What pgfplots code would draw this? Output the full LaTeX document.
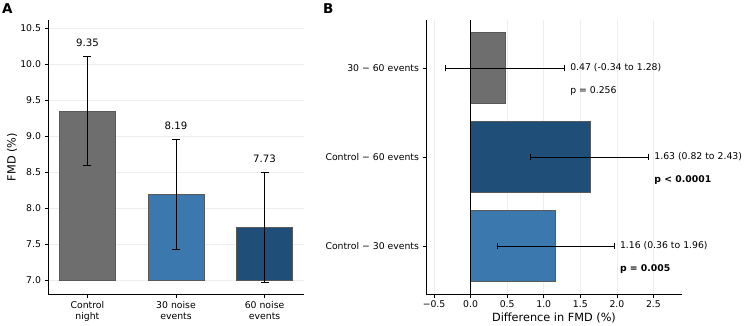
\documentclass[border=0pt]{standalone}
\usepackage{pgfplots}
\pgfplotsset{compat=1.18}
\usepackage{pgfplotstable}
\usepackage{fontspec}
\setmainfont{DejaVu Sans}

\definecolor{bargrey}{HTML}{6E6E6E}
\definecolor{barblue}{HTML}{3B78AE}
\definecolor{bardark}{HTML}{1F4E79}
\definecolor{gridc}{HTML}{EEEEEE}

% FMD per condition: mean and half-width of the error bar
\pgfplotstableread{
x fmd err
0 9.35 0.75
1 8.19 0.76
2 7.73 0.76
}\fmdtable

% Paired differences with 95% CI
\pgfplotstableread{
pos diff lo hi
0 1.16 0.36 1.96
1 1.63 0.82 2.43
2 0.47 -0.34 1.28
}\difftable

\newcommand{\ticksize}{\fontsize{9.3}{11}\selectfont}
\newcommand{\labsize}{\fontsize{11.3}{13}\selectfont}

\pgfplotsset{
  panel/.style={
    scale only axis, width=256pt, height=274pt,
    axis x line*=bottom, axis y line*=left,
    axis line style={-, black, line width=0.8pt},
    every outer x axis line/.append style={-},
    every outer y axis line/.append style={-},
    tick align=outside, major tick length=3.5pt,
    tick style={black, line width=0.8pt},
    tick label style={font=\ticksize},
    label style={font=\labsize},
    /pgf/number format/assume math mode=true,
    /pgf/number format/fixed,
    /pgf/number format/fixed zerofill,
    /pgf/number format/precision=1,
    grid style={gridc, line width=0.6pt},
  },
  barstyle/.style={draw=black!65, line width=0.5pt},
}

\begin{document}
\begin{tikzpicture}
\path[use as bounding box] (0,0) rectangle (745pt,325pt);

% ---------- Panel A: FMD by condition ----------
\begin{axis}[panel, at={(48pt,31pt)}, anchor=south west,
  xmin=-0.445, xmax=2.445, ymin=6.81, ymax=10.61,
  ytick={7,7.5,8,8.5,9,9.5,10,10.5}, ymajorgrids,
  xtick={0,1,2},
  xticklabels={Control\\night, 30 noise\\events, 60 noise\\events},
  xticklabel style={align=center},
  ylabel={FMD (\%)},
  ylabel style={at={(axis description cs:-0.1406,0.5)}, anchor=center},
]
\addplot[barstyle, fill=bargrey] coordinates {(-0.315,7) (-0.315,9.35) (0.315,9.35) (0.315,7)} -- cycle;
\addplot[barstyle, fill=barblue] coordinates {(0.685,7) (0.685,8.19) (1.315,8.19) (1.315,7)} -- cycle;
\addplot[barstyle, fill=bardark] coordinates {(1.685,7) (1.685,7.73) (2.315,7.73) (2.315,7)} -- cycle;
\addplot[draw=none, mark=none,
  error bars/.cd, y dir=both, y explicit, error mark=|,
  error bar style={draw=black, line width=0.8pt},
  error mark options={draw=black, line width=0.8pt, mark size=4pt}]
  table[x=x, y=fmd, y error=err] {\fmdtable};
\addplot[draw=none, mark=none, nodes near coords, point meta=explicit,
  nodes near coords style={anchor=center, font=\fontsize{10.2}{12}\selectfont,
    /pgf/number format/precision=2}]
  table[x=x, y expr=\thisrow{fmd}+\thisrow{err}+0.19, meta=fmd] {\fmdtable};
\end{axis}

% ---------- Panel B: differences between conditions ----------
\begin{axis}[panel, at={(426pt,31pt)}, anchor=south west, clip=false,
  xmin=-0.61, xmax=2.89, ymin=-0.54, ymax=2.54,
  xtick={-0.5,0,0.5,1,1.5,2,2.5},
  xticklabels={−0.5,0.0,0.5,1.0,1.5,2.0,2.5},
  xmajorgrids,
  ytick={0,1,2},
  yticklabels={Control − 30 events, Control − 60 events, 30 − 60 events},
  xlabel={Difference in FMD (\%)},
  xlabel style={at={(axis description cs:0.5,0)}, anchor=center, yshift=-24pt},
]
\addplot[xbar, bar width=0.8, bar shift=0pt, barstyle, fill=barblue] coordinates {(1.16,0)};
\addplot[xbar, bar width=0.8, bar shift=0pt, barstyle, fill=bardark] coordinates {(1.63,1)};
\addplot[xbar, bar width=0.8, bar shift=0pt, barstyle, fill=bargrey] coordinates {(0.47,2)};
\addplot[black, line width=0.8pt] coordinates {(0,-0.54) (0,2.54)};
\addplot[draw=none, mark=none,
  error bars/.cd, x dir=both, x explicit, error mark=|,
  error bar style={draw=black, line width=0.8pt},
  error mark options={draw=black, line width=0.8pt, mark size=3.4pt}]
  table[x=diff, y=pos,
        x error plus expr=\thisrow{hi}-\thisrow{diff},
        x error minus expr=\thisrow{diff}-\thisrow{lo}] {\difftable};
\begin{scope}[every node/.style={anchor=west, inner sep=0pt, font=\ticksize}]
\node at (axis cs:1.36,2) {0.47 (-0.34 to 1.28)};
\node at (axis cs:1.36,1.74) {p = 0.256};
\node at (axis cs:2.51,1) {1.63 (0.82 to 2.43)};
\node[font=\ticksize\bfseries] at (axis cs:2.51,0.74) {p < 0.0001};
\node at (axis cs:2.04,0) {1.16 (0.36 to 1.96)};
\node[font=\ticksize\bfseries] at (axis cs:2.04,-0.26) {p = 0.005};
\end{scope}
\end{axis}

% Panel letters
\node[anchor=base west, inner sep=0pt, font=\fontsize{13.5}{15}\selectfont\bfseries] at (2pt,312pt) {A};
\node[anchor=base west, inner sep=0pt, font=\fontsize{13.5}{15}\selectfont\bfseries] at (323pt,312pt) {B};
\end{tikzpicture}
\end{document}
